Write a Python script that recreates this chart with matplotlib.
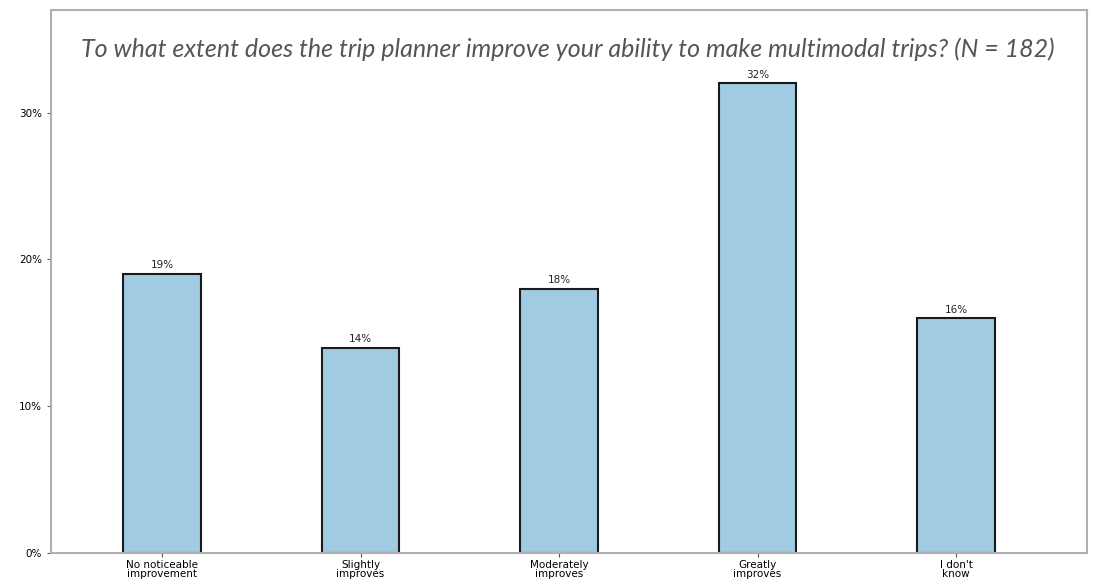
import matplotlib.pyplot as plt
from matplotlib.ticker import FuncFormatter

categories = ["No noticeable\nimprovement", "Slightly\nimproves", "Moderately\nimproves",
              "Greatly\nimproves", "I don't\nknow"]
percents = [19, 14, 18, 32, 16]
yticks = [0, 10, 20, 30]

fig = plt.figure(figsize=(10.94, 5.84), dpi=100)
ax = fig.add_axes([0.0466, 0.053, 0.947, 0.930])

x = range(len(categories))
bars = ax.bar(x, percents, width=0.39, color="#a0cbe2", edgecolor="#1a1a1a", linewidth=1.5)
for xi, p in zip(x, percents):
    ax.text(xi, p + 0.25, f"{p}%", ha="center", va="bottom", fontsize=7.5, color="#222222")

ax.set_xlim(-0.56, 4.66)
ax.set_ylim(0, 37)
ax.set_yticks(yticks)
ax.yaxis.set_major_formatter(FuncFormatter(lambda v, pos: f"{int(v)}%"))
ax.set_xticks(list(x))
ax.set_xticklabels(categories, fontsize=7.5, linespacing=0.9)
ax.tick_params(axis="y", labelsize=7.5, length=3, color="#555555")
ax.tick_params(axis="x", length=3, pad=2, color="#555555")

for s in ax.spines.values():
    s.set_color("#b0b0b0")
    s.set_linewidth(1.5)

ax.text(0.499, 0.928, "To what extent does the trip planner improve your ability to make multimodal trips? (N = 182)",
        transform=ax.transAxes, ha="center", va="center", fontsize=18, style="italic",
        family="Lato", color="#555555")

fig.savefig("out.png", dpi=100)
